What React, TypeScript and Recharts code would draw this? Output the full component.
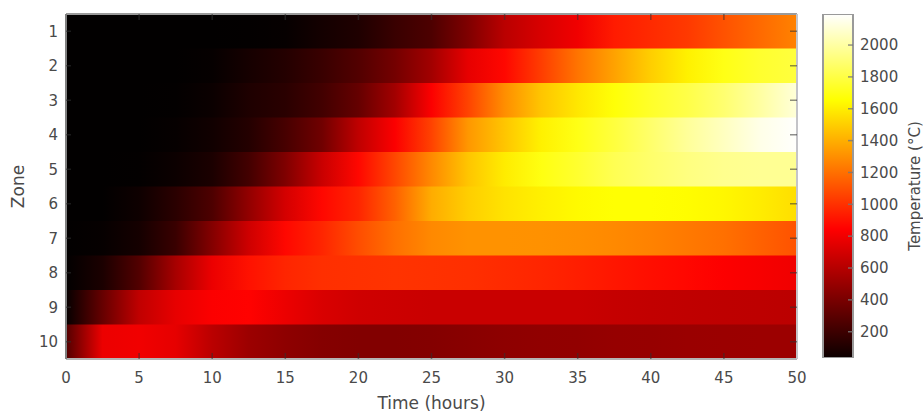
import React from 'react';
import { BarChart, Bar, XAxis, YAxis, Cell } from 'recharts';

// ---- data ----
const zones = ['1', '2', '3', '4', '5', '6', '7', '8', '9', '10'];
const timeHours = [0, 2.5, 5, 7.5, 10, 12.5, 15, 17.5, 20, 22.5, 25, 27.5, 30, 32.5, 35, 37.5, 40, 42.5, 45, 47.5, 50];
const zone1 = [40, 40, 40, 40, 40, 45, 55, 100, 135, 215, 280, 437, 627, 720, 800, 930, 977, 1025, 1104, 1183, 1257];
const zone2 = [40, 40, 40, 40, 55, 105, 150, 215, 295, 405, 548, 770, 866, 1040, 1215, 1358, 1500, 1610, 1700, 1755, 1787];
const zone3 = [40, 40, 40, 45, 70, 130, 167, 246, 357, 548, 835, 1057, 1295, 1470, 1580, 1670, 1745, 1808, 1893, 1999, 2115];
const zone4 = [40, 40, 40, 55, 88, 150, 262, 390, 643, 835, 1056, 1326, 1470, 1610, 1700, 1787, 1882, 1978, 2062, 2147, 2190];
const zone5 = [40, 40, 45, 72, 120, 247, 437, 675, 866, 1072, 1280, 1470, 1596, 1690, 1755, 1830, 1882, 1925, 1956, 1967, 1967];
const zone6 = [40, 42, 78, 167, 278, 500, 707, 866, 961, 1152, 1390, 1500, 1565, 1606, 1638, 1660, 1660, 1650, 1628, 1596, 1550];
const zone7 = [40, 55, 103, 215, 453, 690, 866, 961, 1088, 1200, 1280, 1310, 1310, 1304, 1295, 1280, 1257, 1230, 1200, 1152, 1104];
const zone8 = [40, 120, 295, 565, 786, 898, 961, 993, 1002, 1008, 1002, 993, 977, 961, 939, 914, 888, 866, 840, 818, 796];
const zone9 = [50, 358, 644, 770, 835, 850, 786, 723, 691, 682, 675, 675, 675, 675, 675, 662, 650, 644, 637, 634, 628];
const zone10 = [294, 786, 802, 765, 627, 532, 485, 459, 447, 447, 453, 469, 485, 494, 500, 510, 516, 523, 526, 529, 532];
const zoneSeries = [zone1, zone2, zone3, zone4, zone5, zone6, zone7, zone8, zone9, zone10];

const tempRange = [35, 2195];
const xTicks = [0, 5, 10, 15, 20, 25, 30, 35, 40, 45, 50];
const cbarTicks = [200, 400, 600, 800, 1000, 1200, 1400, 1600, 1800, 2000];

// ---- colormap (hot) ----
const clamp = (v: number) => Math.max(0, Math.min(1, v));
function hot(v: number): string {
  const t = clamp((v - tempRange[0]) / (tempRange[1] - tempRange[0]));
  const r = clamp(t / 0.375);
  const g = clamp((t - 0.375) / 0.375);
  const b = clamp((t - 0.75) / 0.25);
  return `rgb(${Math.round(r * 255)},${Math.round(g * 255)},${Math.round(b * 255)})`;
}
const hotStops = [
  { o: 0, c: 'rgb(11,0,0)' },
  { o: 0.375, c: 'rgb(255,0,0)' },
  { o: 0.75, c: 'rgb(255,255,0)' },
  { o: 1, c: 'rgb(255,255,255)' },
];

const t0 = timeHours[0];
const tN = timeHours[timeHours.length - 1];
const rows = zones.map((z, i) => ({ zone: z, span: [t0, tN], temps: zoneSeries[i] }));
const cbarData = [{ name: 'cb', range: tempRange }];

const FONT = '"DejaVu Sans", sans-serif';
const TXT = '#4a4a4a';
const TICK = 'rgba(50,50,50,0.55)';

export default function App() {
  return (
    <div style={{ position: 'absolute', left: 0, top: 0, width: 923, height: 412, background: '#fff', fontFamily: FONT }}>
      <div style={{ position: 'absolute', left: 0, top: 0 }}>
        <BarChart
          width={923}
          height={412}
          data={rows}
          layout="vertical"
          margin={{ top: 14, right: 126, bottom: 0, left: 0 }}
          barCategoryGap={0}
          barGap={0}
        >
          <defs>
            {rows.map((row, i) => (
              <linearGradient key={i} id={`row-${i}`} x1="0" y1="0" x2="1" y2="0">
                {timeHours.map((t, j) => (
                  <stop key={j} offset={`${((t - t0) / (tN - t0)) * 100}%`} stopColor={hot(row.temps[j])} />
                ))}
              </linearGradient>
            ))}
          </defs>
          <XAxis
            type="number"
            domain={[t0, tN]}
            ticks={xTicks}
            allowDataOverflow
            height={53}
            tickLine={false}
            tickSize={0}
            tickMargin={13}
            axisLine={{ stroke: '#b4b4b4', strokeWidth: 2 }}
            tick={{ fill: TXT, fontSize: 15, fontFamily: FONT }}
            label={{ value: 'Time (hours)', position: 'insideBottom', offset: 3, fill: TXT, fontSize: 17, fontFamily: FONT }}
          />
          <XAxis
            xAxisId="bt"
            orientation="bottom"
            type="number"
            domain={[t0, tN]}
            ticks={xTicks}
            allowDataOverflow
            mirror
            height={1}
            axisLine={false}
            tickSize={6}
            tickLine={{ stroke: TICK, strokeWidth: 1.5 }}
            tickFormatter={() => ''}
          />
          <XAxis
            xAxisId="top"
            orientation="top"
            type="number"
            domain={[t0, tN]}
            ticks={xTicks}
            allowDataOverflow
            mirror
            height={1}
            axisLine={{ stroke: '#9a9a9a', strokeWidth: 2 }}
            tickSize={6}
            tickLine={{ stroke: TICK, strokeWidth: 1.5 }}
            tickFormatter={() => ''}
          />
          <YAxis
            type="category"
            dataKey="zone"
            width={66}
            tickLine={false}
            tickSize={0}
            tickMargin={8}
            axisLine={{ stroke: '#808080', strokeWidth: 2 }}
            tick={{ fill: TXT, fontSize: 15, fontFamily: FONT }}
            label={{ value: 'Zone', angle: -90, position: 'insideLeft', offset: 18, fill: TXT, fontSize: 17, fontFamily: FONT, style: { textAnchor: 'middle' } }}
          />
          <YAxis
            yAxisId="lt"
            type="category"
            dataKey="zone"
            mirror
            width={1}
            axisLine={false}
            tickSize={5}
            tickLine={{ stroke: TICK, strokeWidth: 1.5 }}
            tickFormatter={() => ''}
          />
          <YAxis
            yAxisId="rt"
            orientation="right"
            type="category"
            dataKey="zone"
            mirror
            width={1}
            axisLine={{ stroke: '#c4c4c8', strokeWidth: 2 }}
            tickSize={7}
            tickLine={{ stroke: TICK, strokeWidth: 1.5 }}
            tickFormatter={() => ''}
          />
          <Bar dataKey="span" isAnimationActive={false}>
            {rows.map((_, i) => (
              <Cell key={i} fill={`url(#row-${i})`} />
            ))}
          </Bar>
        </BarChart>
      </div>
      <div style={{ position: 'absolute', left: 0, top: 0 }}>
        <BarChart
          width={923}
          height={412}
          data={cbarData}
          margin={{ top: 14, right: 0, bottom: 54, left: 823 }}
          barCategoryGap={0}
        >
          <defs>
            <linearGradient id="cbar" x1="0" y1="1" x2="0" y2="0">
              {hotStops.map((s, i) => (
                <stop key={i} offset={`${s.o * 100}%`} stopColor={s.c} />
              ))}
            </linearGradient>
          </defs>
          <XAxis dataKey="name" hide />
          <YAxis
            orientation="right"
            type="number"
            domain={tempRange}
            ticks={cbarTicks}
            allowDataOverflow
            width={70}
            tickLine={false}
            tickSize={0}
            tickMargin={7}
            axisLine={false}
            tick={{ fill: TXT, fontSize: 15, fontFamily: FONT, textAnchor: 'start' }}
            label={{ value: 'Temperature (°C)', angle: -90, position: 'insideRight', offset: 8, fill: TXT, fontSize: 15, fontFamily: FONT, style: { textAnchor: 'middle' } }}
          />
          <YAxis
            yAxisId="cbt"
            orientation="right"
            type="number"
            domain={tempRange}
            ticks={cbarTicks}
            allowDataOverflow
            mirror
            width={1}
            axisLine={false}
            tickSize={5}
            tickLine={{ stroke: 'rgba(120,120,120,0.8)', strokeWidth: 1.5 }}
            tickFormatter={() => ''}
          />
          <Bar dataKey="range" fill="url(#cbar)" stroke="#9a9a9a" strokeWidth={2} isAnimationActive={false} />
        </BarChart>
      </div>
    </div>
  );
}
